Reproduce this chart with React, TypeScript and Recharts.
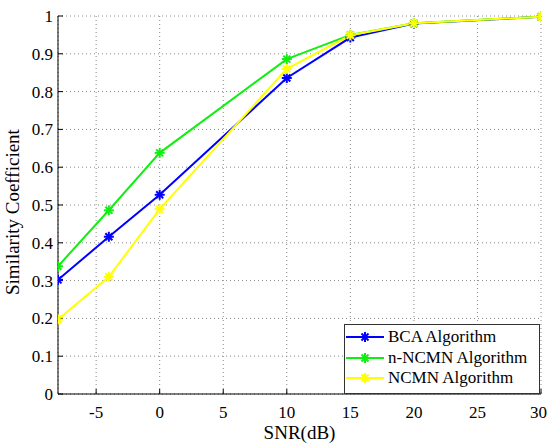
import React from 'react'
import { LineChart, Line, XAxis, YAxis, CartesianGrid } from 'recharts'

// SNR points (dB)
const snr = [-8, -4, 0, 10, 15, 20, 30]
const bca = [0.302, 0.416, 0.527, 0.836, 0.943, 0.98, 0.998]
const nNcmn = [0.338, 0.486, 0.638, 0.886, 0.95, 0.981, 0.998]
const ncmn = [0.197, 0.31, 0.489, 0.86, 0.949, 0.981, 0.998]

const xTicks = [-5, 0, 5, 10, 15, 20, 25, 30]
const yTicks = [0, 0.1, 0.2, 0.3, 0.4, 0.5, 0.6, 0.7, 0.8, 0.9, 1]

const seriesList = [
  { key: 'bca', name: 'BCA Algorithm', color: '#0000ff' },
  { key: 'nNcmn', name: 'n-NCMN Algorithm', color: '#11ee11' },
  { key: 'ncmn', name: 'NCMN Algorithm', color: '#ffff00' },
]

const data = snr.map((x, i) => ({ snr: x, bca: bca[i], nNcmn: nNcmn[i], ncmn: ncmn[i] }))

const FONT = 'Liberation Serif, Times New Roman, serif'

// MATLAB style '*' marker
const Star = ({ cx, cy, stroke }: any) => {
  if (cx == null || cy == null) return null
  const r = 5
  const d = r * 0.7
  return (
    <g stroke={stroke} strokeWidth={2}>
      <line x1={cx - r} y1={cy} x2={cx + r} y2={cy} />
      <line x1={cx} y1={cy - r} x2={cx} y2={cy + r} />
      <line x1={cx - d} y1={cy - d} x2={cx + d} y2={cy + d} />
      <line x1={cx - d} y1={cy + d} x2={cx + d} y2={cy - d} />
    </g>
  )
}

// legend box drawn over the plot, bottom right like matlab
const LegendBox = () => (
  <div
    style={{
      position: 'absolute',
      left: 344,
      top: 324,
      width: 193,
      height: 66,
      border: '1px solid #333',
      background: '#fff',
      padding: '2px 0 0 1px',
      fontFamily: FONT,
      fontSize: 17,
      lineHeight: '20.5px',
      whiteSpace: 'nowrap',
    }}
  >
    {seriesList.map((s) => (
      <div key={s.key} style={{ display: 'flex', alignItems: 'center' }}>
        <svg width={41} height={14} style={{ marginRight: 1 }}>
          <line x1={0} y1={7} x2={38} y2={7} stroke={s.color} strokeWidth={2} />
          <Star cx={19} cy={7} stroke={s.color} />
        </svg>
        <span>{s.name}</span>
      </div>
    ))}
  </div>
)

export default function App() {
  return (
    <div style={{ position: 'absolute', left: 0, top: 0, width: 547, height: 444, background: '#fff', fontFamily: FONT }}>
      <LineChart width={547} height={444} data={data} margin={{ top: 16, right: 6, bottom: 14, left: 18 }} style={{ fontFamily: FONT }}>
        <CartesianGrid stroke="#888" strokeDasharray="1 3" />
        <XAxis
          dataKey="snr"
          type="number"
          domain={[-8, 30]}
          ticks={xTicks}
          allowDataOverflow
          height={36}
          stroke="#000"
          tickSize={-5}
          tickMargin={17}
          tick={{ fill: '#000', fontSize: 17, style: { fontFamily: FONT } }}
          label={{ value: 'SNR(dB)', position: 'insideBottom', offset: -9, fill: '#000', fontSize: 19, style: { fontFamily: FONT } }}
        />
        <XAxis xAxisId="top" orientation="top" type="number" domain={[-8, 30]} ticks={xTicks} stroke="#000" tickSize={-5} tick={false} height={0} />
        <YAxis
          type="number"
          domain={[0, 1]}
          ticks={yTicks}
          width={40}
          stroke="#000"
          tickSize={-5}
          tickMargin={10}
          tick={{ fill: '#000', fontSize: 17, style: { fontFamily: FONT } }}
          label={{ value: 'Similarity Coefficient', angle: -90, position: 'insideLeft', offset: -6, dy: 90, fill: '#000', fontSize: 19, style: { fontFamily: FONT } }}
        />
        <YAxis yAxisId="right" orientation="right" type="number" domain={[0, 1]} ticks={yTicks} stroke="#000" tickSize={-5} tick={false} width={0} />
        {seriesList.map((s) => (
          <Line
            key={s.key}
            dataKey={s.key}
            name={s.name}
            stroke={s.color}
            strokeWidth={2}
            dot={<Star stroke={s.color} />}
            activeDot={false}
            isAnimationActive={false}
          />
        ))}
      </LineChart>
      <LegendBox />
    </div>
  )
}
